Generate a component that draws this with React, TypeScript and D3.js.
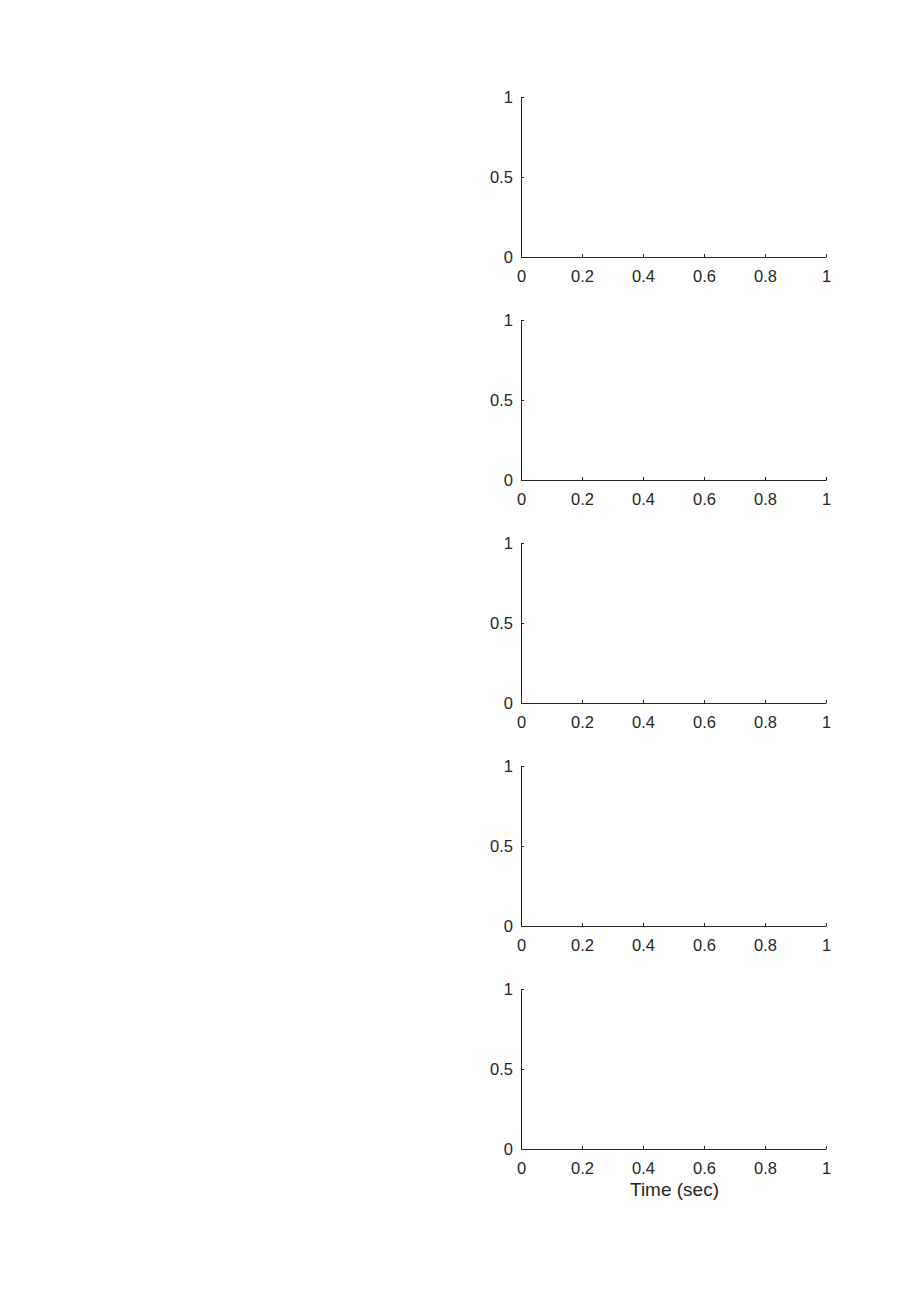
import React, { useRef, useEffect } from "react";
import * as d3 from "d3";

// five empty subplots, same axes each
const panels = [0, 1, 2, 3, 4];
const xTicks = [0, 0.2, 0.4, 0.6, 0.8, 1];
const yTicks = [0, 0.5, 1];
const xLabel = "Time (sec)";

const App = () => {
  const svgRef = useRef<SVGSVGElement>(null);
  const width = 914;
  const height = 1292;
  const left = 521;
  const right = 826;
  const firstTop = 97;
  const panelH = 160;
  const step = 223;
  const axisColor = "#262626";
  const font = "Arial, 'Liberation Sans', Helvetica, sans-serif";

  useEffect(() => {
    const svg = d3.select(svgRef.current);
    svg.selectAll("*").remove();

    const x = d3.scaleLinear().domain([0, 1]).range([left, right]);

    panels.forEach((p) => {
      const top = firstTop + p * step;
      const y = d3.scaleLinear().domain([0, 1]).range([top + panelH, top]);

      const g = svg.append("g").attr("class", "panel");

      // x axis (ticks pointing inward)
      const xAxis = g
        .append("g")
        .attr("transform", `translate(0,${top + panelH})`)
        .call(
          d3
            .axisBottom(x)
            .tickValues(xTicks)
            .tickSizeInner(-3)
            .tickSizeOuter(0)
            .tickPadding(13)
            .tickFormat((d) => d3.format("")(d as number))
        );

      // y axis
      const yAxis = g
        .append("g")
        .attr("transform", `translate(${left},0)`)
        .call(
          d3
            .axisLeft(y)
            .tickValues(yTicks)
            .tickSizeInner(-3)
            .tickSizeOuter(0)
            .tickPadding(8)
            .tickFormat((d) => d3.format("")(d as number))
        );

      [xAxis, yAxis].forEach((a) => {
        a.select(".domain").attr("stroke", axisColor).attr("stroke-width", 1);
        a.selectAll(".tick line").attr("stroke", axisColor);
        a.selectAll(".tick text")
          .attr("fill", axisColor)
          .style("font-family", font)
          .style("font-size", "16.5px");
      });

      if (p === panels.length - 1) {
        g.append("text")
          .attr("x", (left + right) / 2 + 1)
          .attr("y", top + panelH + 47)
          .attr("text-anchor", "middle")
          .attr("fill", axisColor)
          .style("font-family", font)
          .style("font-size", "19px")
          .text(xLabel);
      }
    });
  }, []);

  return (
    <svg
      ref={svgRef}
      width={width}
      height={height}
      style={{ position: "absolute", left: 0, top: 0, background: "white" }}
    ></svg>
  );
};

export default App;
